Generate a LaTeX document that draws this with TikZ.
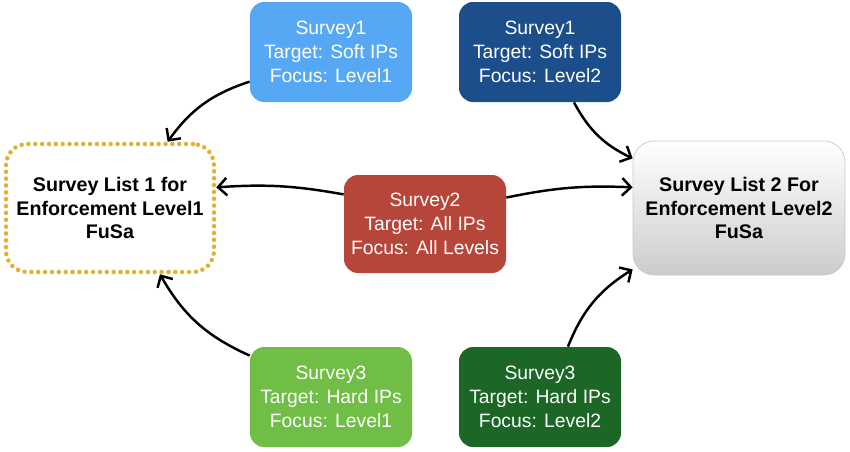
\documentclass[tikz,border=0pt]{standalone}
\usepackage{fontspec}
\setmainfont{Liberation Sans}
\usetikzlibrary{arrows.meta,positioning,calc}
\definecolor{softone}{HTML}{56A8F5}
\definecolor{softtwo}{HTML}{1B4E8A}
\definecolor{allred}{HTML}{B6453A}
\definecolor{hardone}{HTML}{70BE46}
\definecolor{hardtwo}{HTML}{1C6626}
\definecolor{golddot}{HTML}{E0B23A}
\definecolor{listedge}{HTML}{C9C9C9}

\begin{document}
\begin{tikzpicture}[
  survey/.style={rounded corners=8pt, minimum width=3.24cm, minimum height=2cm,
                 align=center, text=white, inner sep=2pt,
                 font=\fontsize{11}{13.6}\selectfont},
  listone/.style={draw=golddot, line width=2.6pt, line cap=round,
                  dash pattern=on 0pt off 3.9pt, rounded corners=12pt,
                  minimum width=4.16cm, minimum height=2.56cm, align=center,
                  font=\fontsize{11.2}{13.4}\selectfont\bfseries},
  listtwo/.style={draw=listedge, top color=white, bottom color=black!20,
                  rounded corners=12pt, minimum width=4.24cm, minimum height=2.68cm,
                  align=center, font=\fontsize{11.2}{13.4}\selectfont\bfseries},
  flarrow/.style={-{Straight Barb[length=5pt,width=10pt]}, black, line width=1.4pt}
]
  \useasboundingbox (0,0) rectangle (17,9.02);

  % ── Left / right: survey lists ──
  \node[listone] (l1) at (2.2, 4.86)
    {Survey List 1 for\\Enforcement Level1\\FuSa};
  \node[listtwo] (l2) at (14.78, 4.86)
    {Survey List 2 For\\Enforcement Level2\\FuSa};

  % ── Top: Survey1 ──
  \node[survey, fill=softone] (s1a) at (6.62, 7.98)
    {Survey1\\Target: Soft IPs\\Focus: Level1};
  \node[survey, fill=softtwo] (s1b) at (10.8, 7.98)
    {Survey1\\Target: Soft IPs\\Focus: Level2};

  % ── Middle: Survey2 ──
  \node[survey, fill=allred, minimum height=1.96cm] (s2) at (8.5, 4.54)
    {Survey2\\Target: All IPs\\Focus: All Levels};

  % ── Bottom: Survey3 ──
  \node[survey, fill=hardone] (s3a) at (6.62, 1.08)
    {Survey3\\Target: Hard IPs\\Focus: Level1};
  \node[survey, fill=hardtwo] (s3b) at (10.8, 1.08)
    {Survey3\\Target: Hard IPs\\Focus: Level2};

  % Arrows: surveys → lists
  \draw[flarrow] (s1a.200) to[bend right=18] (l1.49);
  \draw[flarrow] (s1b.304) to[bend right=18] (l2.155);
  \draw[flarrow] (s2.160) to[bend right=7] (l1.11);
  \draw[flarrow] (s2.18) to[bend left=7] (l2.169);
  \draw[flarrow] (s3a.153) to[bend left=18] (l1.307);
  \draw[flarrow] (s3b.61) to[bend left=18] (l2.210);
\end{tikzpicture}
\end{document}
